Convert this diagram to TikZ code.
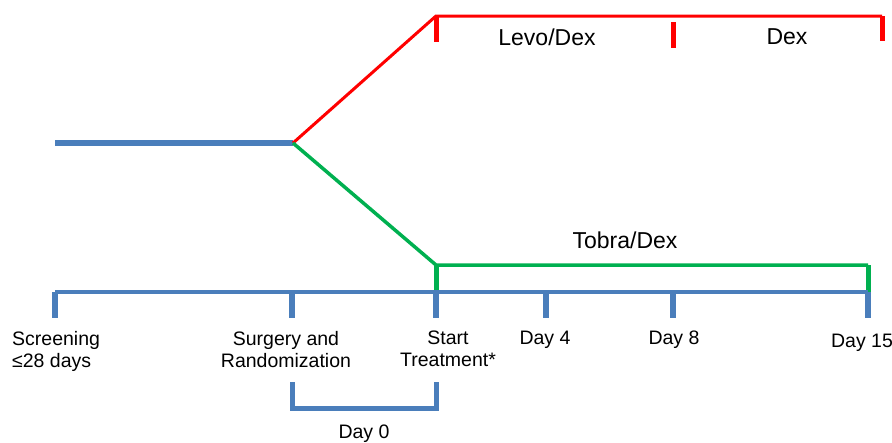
\documentclass[tikz,border=0pt]{standalone}
\usepackage{fontspec}
\setmainfont{Liberation Sans}
\usetikzlibrary{positioning, calc}
\definecolor{axisblue}{RGB}{74,126,187}
\definecolor{armred}{RGB}{255,0,0}
\definecolor{armgreen}{RGB}{0,176,80}

\begin{document}
\begin{tikzpicture}[x=1pt, y=-1pt,
  daylbl/.style={font=\fontsize{19.5}{22}\selectfont, align=center, inner sep=0pt, anchor=north},
  armlbl/.style={font=\fontsize{23}{26}\selectfont, inner sep=0pt},
  axisline/.style={axisblue, line width=4pt},
  tickmark/.style={axisblue, line width=5.5pt},
  redline/.style={armred, line width=3pt},
  redtick/.style={armred, line width=5pt},
  greenline/.style={armgreen, line width=3.5pt},
  greentick/.style={armgreen, line width=5pt}]
  \useasboundingbox (0,0) rectangle (892,442);

  \coordinate (pre) at (55,143);
  \coordinate (split) at (293,143);
  \coordinate (levo) at (436,16);
  \coordinate (dex) at (673,16);
  \coordinate (redend) at (882,16);
  \coordinate (tobra) at (436,265);
  \coordinate (greenend) at (868,265);
  \foreach \name/\x in {scr/55, surg/292, start/436, d4/546, d8/673, d15/868}
    \coordinate (\name) at (\x,292);

  \draw[line width=6pt, axisblue] (pre) -- (split);
  \draw[redline] (split) -- (levo) -- (redend);
  \draw[redtick] (levo) -- ++(0,26);
  \draw[redtick] ($(dex)+(0,6)$) -- ++(0,26);
  \draw[redtick] (redend) -- ++(0,25);
  \draw[greenline] (split) -- (tobra) -- (greenend);
  \draw[greentick] (tobra) -- (start);
  \draw[greentick] (greenend) -- (d15);

  \draw[axisline] (scr) -- (d15);
  \foreach \name in {scr, surg, start, d4, d8, d15}
    \draw[tickmark] (\name) -- ++(0,26);

  \node[armlbl] (levolbl) at (547,37) {Levo/Dex};
  \node[armlbl] (dexlbl) at (787,37) {Dex};
  \node[armlbl] (tobralbl) at (625,240) {Tobra/Dex};

  \node[daylbl, anchor=north west, align=left] (scrlbl) at (12,331) {Screening\\≤28 days};
  \node[daylbl] (surglbl) at (286,331) {Surgery and\\Randomization};
  \node[daylbl] (startlbl) at (448,331) {Start\\Treatment*};
  \node[daylbl] (d4lbl) at (545,331) {Day 4};
  \node[daylbl] (d8lbl) at (674,331) {Day 8};
  \node[daylbl] (d15lbl) at (862,334) {Day 15};

  \coordinate (brl) at ($(surg)+(0,90)$);
  \coordinate (brr) at ($(start)+(0,90)$);
  \draw[axisline, line width=5pt] (brl) -- ++(0,26) -| (brr);
  \node[daylbl] (d0lbl) at (364,425) {Day 0};
\end{tikzpicture}
\end{document}
